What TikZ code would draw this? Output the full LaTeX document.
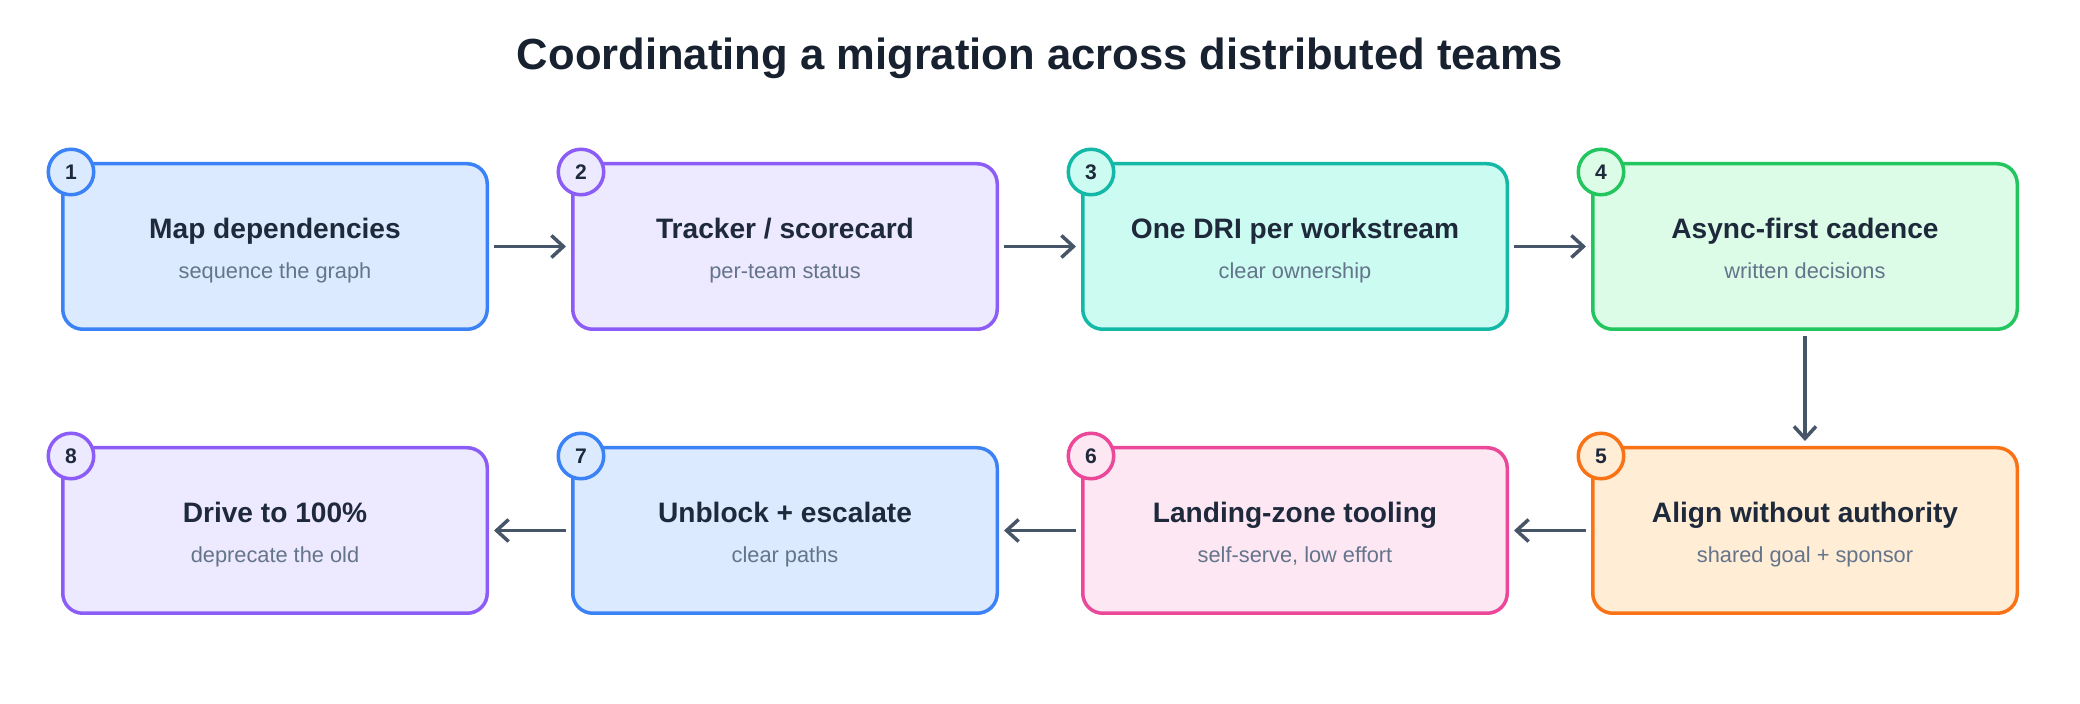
\documentclass[tikz,border=0pt]{standalone}
\usepackage{fontspec}
\setmainfont{Liberation Sans}
\usetikzlibrary{calc,arrows.meta}
\definecolor{ink}{HTML}{1E293B}
\definecolor{mute}{HTML}{64748B}
\definecolor{arrc}{HTML}{475569}
\definecolor{bl}{HTML}{3B82F6}\definecolor{blbg}{HTML}{DBEAFE}
\definecolor{pu}{HTML}{8B5CF6}\definecolor{pubg}{HTML}{EDE9FE}
\definecolor{te}{HTML}{14B8A6}\definecolor{tebg}{HTML}{CCFBF1}
\definecolor{gr}{HTML}{22C55E}\definecolor{grbg}{HTML}{DCFCE7}
\definecolor{or}{HTML}{F97316}\definecolor{orbg}{HTML}{FFEDD5}
\definecolor{pk}{HTML}{EC4899}\definecolor{pkbg}{HTML}{FCE7F3}
\tikzset{box/.style={rectangle,rounded corners=0.2cm,draw=#1,fill=#1bg,line width=0.035cm,minimum width=4.245cm,minimum height=1.655cm,inner sep=0pt},
num/.style={circle,draw=#1,fill=#1bg,line width=0.035cm,minimum size=0.455cm,inner sep=0pt,text=ink,font=\bfseries\fontsize{6}{7}\selectfont},
ttl/.style={anchor=base,inner sep=0pt,text=ink,font=\bfseries\fontsize{8}{9}\selectfont},
sub/.style={anchor=base,inner sep=0pt,text=mute,font=\fontsize{6.2}{7}\selectfont},
arr/.style={draw=arrc,line width=0.035cm,-{Straight Barb[length=0.12cm,width=0.22cm]},shorten <=0.05cm,shorten >=0.05cm}}

\begin{document}
\begin{tikzpicture}
    \useasboundingbox (0,0) rectangle (20.8,7.04);
    \node[anchor=base,inner sep=0pt,text=ink!80!black,font=\bfseries\fontsize{12.4}{14}\selectfont] (head) at (10.4,6.34) {Coordinating a migration across distributed teams};
    % top row
    \node[box=bl] (b1) at (2.75,4.575) {};
    \node[box=pu] (b2) at (7.85,4.575) {};
    \node[box=te] (b3) at (12.95,4.575) {};
    \node[box=gr] (b4) at (18.05,4.575) {};
    % bottom row
    \node[box=or] (b5) at (18.05,1.735) {};
    \node[box=pk] (b6) at (12.95,1.735) {};
    \node[box=bl] (b7) at (7.85,1.735) {};
    \node[box=pu] (b8) at (2.75,1.735) {};
    \node[num=bl] (n1) at ($(b1.north west)+(0.1,-0.1)$) {1};
    \node[num=pu] (n2) at ($(b2.north west)+(0.1,-0.1)$) {2};
    \node[num=te] (n3) at ($(b3.north west)+(0.1,-0.1)$) {3};
    \node[num=gr] (n4) at ($(b4.north west)+(0.1,-0.1)$) {4};
    \node[num=or] (n5) at ($(b5.north west)+(0.1,-0.1)$) {5};
    \node[num=pk] (n6) at ($(b6.north west)+(0.1,-0.1)$) {6};
    \node[num=bl] (n7) at ($(b7.north west)+(0.1,-0.1)$) {7};
    \node[num=pu] (n8) at ($(b8.north west)+(0.1,-0.1)$) {8};
    \node[ttl] (t1) at ($(b1)+(0,0.08)$) {Map dependencies};
    \node[sub] (s1) at ($(b1)+(0,-0.32)$) {sequence the graph};
    \node[ttl] (t2) at ($(b2)+(0,0.08)$) {Tracker / scorecard};
    \node[sub] (s2) at ($(b2)+(0,-0.32)$) {per-team status};
    \node[ttl] (t3) at ($(b3)+(0,0.08)$) {One DRI per workstream};
    \node[sub] (s3) at ($(b3)+(0,-0.32)$) {clear ownership};
    \node[ttl] (t4) at ($(b4)+(0,0.08)$) {Async-first cadence};
    \node[sub] (s4) at ($(b4)+(0,-0.32)$) {written decisions};
    \node[ttl] (t5) at ($(b5)+(0,0.08)$) {Align without authority};
    \node[sub] (s5) at ($(b5)+(0,-0.32)$) {shared goal + sponsor};
    \node[ttl] (t6) at ($(b6)+(0,0.08)$) {Landing-zone tooling};
    \node[sub] (s6) at ($(b6)+(0,-0.32)$) {self-serve, low effort};
    \node[ttl] (t7) at ($(b7)+(0,0.08)$) {Unblock + escalate};
    \node[sub] (s7) at ($(b7)+(0,-0.32)$) {clear paths};
    \node[ttl] (t8) at ($(b8)+(0,0.08)$) {Drive to 100\%};
    \node[sub] (s8) at ($(b8)+(0,-0.32)$) {deprecate the old};
    \draw[arr] (b1) -- (b2);
    \draw[arr] (b2) -- (b3);
    \draw[arr] (b3) -- (b4);
    \draw[arr] (b4) -- (b5);
    \draw[arr] (b5) -- (b6);
    \draw[arr] (b6) -- (b7);
    \draw[arr] (b7) -- (b8);
\end{tikzpicture}
\end{document}
